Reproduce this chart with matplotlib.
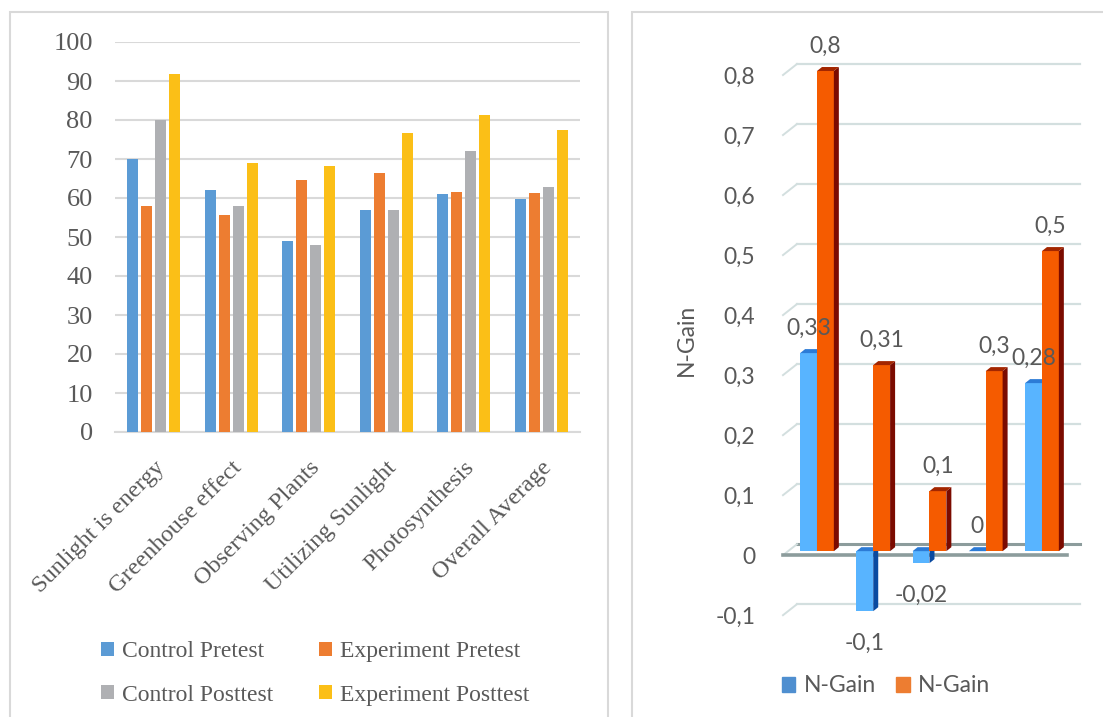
import numpy as np
import matplotlib.pyplot as plt
from matplotlib.patches import Patch, Rectangle

categories = ['Sunlight is energy', 'Greenhouse effect', 'Observing Plants',
              'Utilizing Sunlight', 'Photosynthesis', 'Overall Average']
control_pre = [70, 62, 49, 57, 61, 59.8]
experiment_pre = [58, 55.7, 64.7, 66.5, 61.6, 61.3]
control_post = [80, 58, 47.9, 56.9, 72, 62.9]
experiment_post = [91.7, 69.1, 68.1, 76.6, 81.2, 77.4]
series_names = ['Control Pretest', 'Experiment Pretest', 'Control Posttest', 'Experiment Posttest']
score_ticks = [0, 10, 20, 30, 40, 50, 60, 70, 80, 90, 100]

gain_control = [0.33, -0.1, -0.02, 0, 0.28]
gain_experiment = [0.8, 0.31, 0.1, 0.3, 0.5]
gain_ticks = [-0.1, 0, 0.1, 0.2, 0.3, 0.4, 0.5, 0.6, 0.7, 0.8]

W, H = 1103, 717
fig = plt.figure(figsize=(W / 100, H / 100), dpi=100)


def px_axes(l, t, r, b):
    return fig.add_axes([l / W, 1 - b / H, (r - l) / W, (b - t) / H])


def comma(v):
    return f"{v:g}".replace('.', ',')


# panel frames
fig.add_artist(Rectangle((10 / W, -0.05), 598 / W, 1.05 - 12 / H, transform=fig.transFigure,
                         fill=False, ec='#D9D9D9', lw=1.5))
fig.add_artist(Rectangle((632 / W, -0.05), 0.5, 1.05 - 12 / H, transform=fig.transFigure,
                         fill=False, ec='#D9D9D9', lw=1.5))

# ---------------- left chart ----------------
serif = 'Liberation Serif'
txt = '#595959'
ax1 = px_axes(115, 42, 580, 432)
x = np.arange(len(categories))
colors = ['#5B9BD5', '#ED7D31', '#AFB0B3', '#FBBF17']
w, step = 0.142, 0.18
for k, (vals, c) in enumerate(zip([control_pre, experiment_pre, control_post, experiment_post], colors)):
    ax1.bar(x + (k - 1.5) * step, vals, w, color=c, zorder=3, label=series_names[k])
ax1.set_xlim(-0.5, 5.5)
ax1.set_ylim(0, 100)
ax1.set_yticks(score_ticks)
ax1.set_yticklabels([str(t) for t in score_ticks], fontfamily=serif, fontsize=19, color=txt)
ax1.grid(axis='y', color='#D9D9D9', lw=1.5, zorder=0)
for s in ['top', 'right', 'left']:
    ax1.spines[s].set_visible(False)
ax1.spines['bottom'].set_color('#D9D9D9')
ax1.spines['bottom'].set_linewidth(1.5)
ax1.tick_params(axis='y', length=0, pad=16)
ax1.set_xticks(x)
ax1.set_xticklabels(categories, rotation=45, ha='right', va='top', rotation_mode='anchor',
                    fontfamily=serif, fontsize=17.5, color=txt)
ax1.tick_params(axis='x', length=0, pad=18)
h, l = ax1.get_legend_handles_labels()
order = [0, 2, 1, 3]
fig.legend([h[i] for i in order], [l[i] for i in order], loc='upper left',
           bbox_to_anchor=(80 / W, 1 - 620 / H), ncol=2, frameon=False,
           prop={'family': serif, 'size': 17}, labelcolor=txt,
           handlelength=0.55, handleheight=0.55, handletextpad=0.35,
           columnspacing=1.9, labelspacing=0.95)

# ---------------- right chart (3D-look bars) ----------------
sans = 'Lato'
ax2 = px_axes(783, 20, 1080, 640)
ax2.set_xlim(-0.604, 4.676)
ax2.set_ylim(-0.148, 0.885)
for s in ax2.spines.values():
    s.set_visible(False)
ax2.set_xticks([])

front = 4 / 600
back = 7 / 600
grid_c = '#D3DFDF'
for t in gain_ticks:
    c = '#8C9C9C' if t == 0 else grid_c
    lw = 2.2 if t == 0 else 1.6
    ax2.plot([-0.356, 4.676], [t + back] * 2, color=c, lw=lw, zorder=1, clip_on=False)
    ax2.plot([-0.604, -0.356], [t - front, t + back], color=grid_c, lw=1.4, zorder=1, clip_on=False)
ax2.plot([-0.604, 4.44], [-front] * 2, color='#8C9C9C', lw=2.6, zorder=1, clip_on=False)

ax2.set_yticks([t - front for t in gain_ticks])
ax2.set_yticklabels([comma(t) for t in gain_ticks], fontfamily=sans, fontsize=16.5, color=txt)
ax2.tick_params(axis='y', length=0, pad=20)
ax2.set_ylabel('N-Gain', fontfamily=sans, fontsize=16.5, color=txt)
ax2.yaxis.set_label_coords(-0.29, 0.484)

bw = 0.3
dx, dy = 5 / 56.25, 4 / 600
g = np.arange(len(gain_control))
styles = [('#58B4FF', '#0A4AA0', '#2C7BD6'), ('#F55B00', '#7B0B00', '#A32600')]
for k, (vals, (cf, cs, ct)) in enumerate(zip([gain_control, gain_experiment], styles)):
    x0 = g + (k - 1) * bw
    zo = 3 + k
    ax2.bar(x0, vals, bw, align='edge', color=cf, zorder=zo)
    for xi, v in zip(x0, vals):
        lo, hi = min(0, v), max(0, v)
        ax2.fill([xi + bw, xi + bw + dx, xi + bw + dx, xi + bw],
                 [lo, lo + dy, hi + dy, hi], color=cs, zorder=zo, lw=0)
        ax2.fill([xi, xi + dx, xi + bw + dx, xi + bw],
                 [hi, hi + dy, hi + dy, hi], color=ct, zorder=zo, lw=0)
        off = 18 if v >= 0 else -23
        ax2.annotate(comma(v), (xi + bw / 2, v), xytext=(0, off), textcoords='offset points',
                     ha='center', va='center', fontfamily=sans, fontsize=16.5, color=txt, zorder=6)

fig.legend([Patch(color='#4F8FD0'), Patch(color='#ED7D31')], ['N-Gain', 'N-Gain'],
           loc='center left', bbox_to_anchor=(761 / W, 1 - 686 / H), ncol=2, frameon=False,
           prop={'family': sans, 'size': 16.5}, labelcolor=txt,
           handlelength=0.6, handleheight=0.6, handletextpad=0.35, columnspacing=0.9)

plt.savefig('out.png', dpi=100)
